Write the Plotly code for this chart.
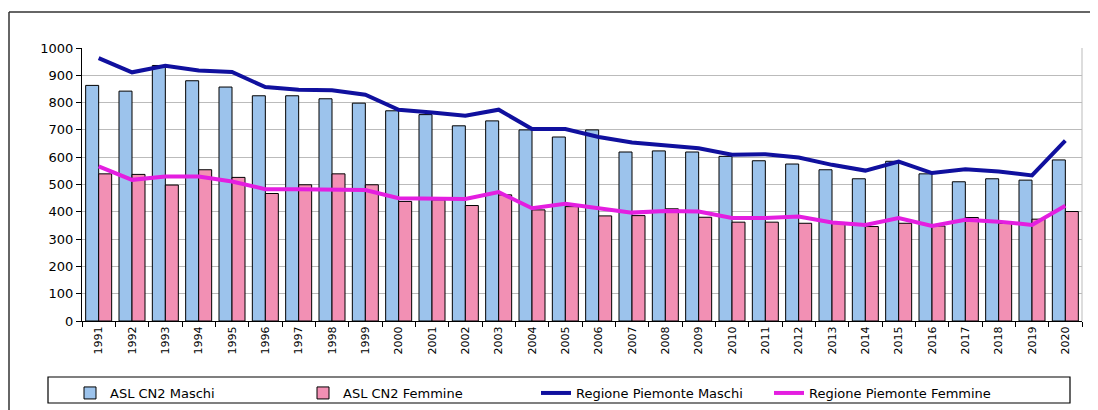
import plotly.graph_objects as go

# Tassi per anno
years = [str(y) for y in range(1991, 2021)]

asl_maschi = [863, 842, 936, 880, 857, 825, 825, 814, 798, 770,
              756, 715, 733, 700, 674, 700, 619, 623, 619, 603,
              587, 575, 554, 521, 585, 539, 510, 521, 516, 590]

asl_femmine = [539, 537, 498, 554, 526, 467, 499, 539, 499, 438,
               444, 423, 462, 407, 419, 385, 386, 411, 380, 362,
               362, 358, 361, 346, 358, 348, 379, 358, 373, 401]

reg_maschi = [963, 911, 935, 918, 912, 857, 847, 845, 829, 774,
              764, 752, 774, 703, 703, 674, 654, 642, 633, 609,
              611, 599, 572, 551, 584, 542, 556, 548, 533, 661]

reg_femmine = [566, 517, 529, 529, 511, 483, 483, 483, 480, 450,
               450, 447, 472, 413, 429, 413, 397, 403, 401, 377,
               377, 383, 361, 352, 377, 348, 371, 364, 352, 422]

y_ticks = list(range(0, 1001, 100))

COLOR_BLUE_BAR = "#9CC3EC"
COLOR_PINK_BAR = "#F290B4"
COLOR_NAVY = "#10109E"
COLOR_MAGENTA = "#E41EE0"

# the page body adds an 8px offset; positions below are in page pixels
OFF = 8
W, H = 1098, 410
PLOT_L, PLOT_R, PLOT_T, PLOT_B = 82, 1082, 48, 321
L = PLOT_L - OFF
T = PLOT_T - OFF
R = W - (PLOT_R - OFF)
B = H - (PLOT_B - OFF)
pw, ph = PLOT_R - PLOT_L, PLOT_B - PLOT_T


def px_x(px):
    return (px - PLOT_L) / pw


def px_y(py):
    return (PLOT_B - py) / ph


fig = go.Figure()

fig.add_trace(go.Bar(
    x=years, y=asl_maschi, name="ASL CN2 Maschi",
    marker=dict(color=COLOR_BLUE_BAR, line=dict(color="black", width=1)),
))
fig.add_trace(go.Bar(
    x=years, y=asl_femmine, name="ASL CN2 Femmine",
    marker=dict(color=COLOR_PINK_BAR, line=dict(color="black", width=1)),
))
fig.add_trace(go.Scatter(
    x=years, y=reg_maschi, name="Regione Piemonte Maschi",
    mode="lines", line=dict(color=COLOR_NAVY, width=4),
))
fig.add_trace(go.Scatter(
    x=years, y=reg_femmine, name="Regione Piemonte Femmine",
    mode="lines", line=dict(color=COLOR_MAGENTA, width=4),
))

# outer frame (left and top edges) and right border of plot area
fig.add_shape(type="line", xref="paper", yref="paper",
              x0=px_x(9), x1=px_x(W + 20), y0=px_y(12), y1=px_y(12),
              line=dict(color="#333333", width=1.5))
fig.add_shape(type="line", xref="paper", yref="paper",
              x0=px_x(9), x1=px_x(9), y0=px_y(12), y1=px_y(H + 20),
              line=dict(color="#333333", width=1.5))
fig.add_shape(type="line", xref="paper", yref="paper",
              x0=1, x1=1, y0=0, y1=1,
              line=dict(color="#BBBBBB", width=1))
# legend box
fig.add_shape(type="rect", xref="paper", yref="paper",
              x0=px_x(48), x1=px_x(1070), y0=px_y(377), y1=px_y(403),
              line=dict(color="black", width=1.2))

# title, mostly cut off at the top
fig.add_annotation(text="1991-2020", xref="paper", yref="paper",
                   x=px_x(14), y=px_y(11), xanchor="left", yanchor="bottom",
                   showarrow=False, font=dict(size=14, color="black"))

fig.update_layout(
    width=W, height=H,
    margin=dict(l=L, r=R, t=T, b=B, autoexpand=False),
    barmode="group", bargap=0.22, bargroupgap=0,
    plot_bgcolor="white", paper_bgcolor="white",
    font=dict(family="DejaVu Sans", size=12, color="black"),
    showlegend=True,
    legend=dict(
        orientation="h", x=px_x(70), xanchor="left",
        y=px_y(378), yanchor="top",
        borderwidth=0, bgcolor="rgba(0,0,0,0)",
        font=dict(size=13, family="DejaVu Sans"),
        itemwidth=30, traceorder="normal",
        entrywidth=188, entrywidthmode="pixels",
    ),
)

fig.update_xaxes(
    type="category", tickangle=-90, tickfont=dict(size=11),
    showline=True, linecolor="black", linewidth=1,
    ticks="outside", tickson="boundaries", ticklen=5, tickcolor="black",
    showgrid=False,
)
fig.update_yaxes(
    range=[0, 1000], tickvals=y_ticks,
    showline=True, linecolor="black", linewidth=1,
    ticks="outside", ticklen=5, tickcolor="black",
    showgrid=True, gridcolor="#BBBBBB", gridwidth=1,
    zeroline=False, tickfont=dict(size=13),
)

fig.write_html("out.html")
